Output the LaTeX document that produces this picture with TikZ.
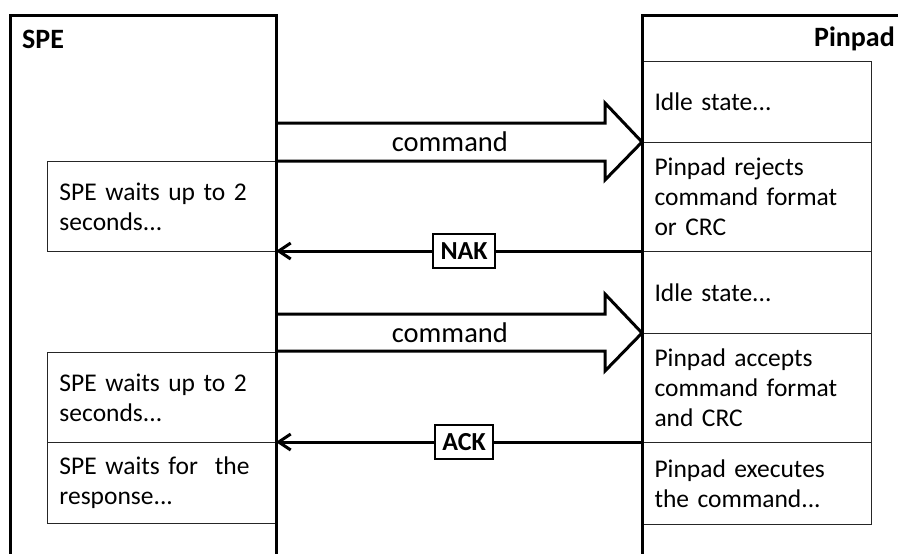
\documentclass[tikz,border=0pt]{standalone}
\usepackage{fontspec}
\setmainfont{Carlito}
\usetikzlibrary{arrows.meta,calc}
\begin{document}
\begin{tikzpicture}[x=1pt,y=-1pt,
  thickline/.style={line width=3pt},
  stepbox/.style={draw=black!85, line width=1pt, rectangle, anchor=north west,
    minimum width=229pt, text width=205pt, inner xsep=12pt, inner ysep=0pt,
    align=left, font=\fontsize{25.5}{30}\selectfont},
  titletext/.style={font=\fontsize{28}{32}\selectfont\bfseries, inner sep=0pt},
  cmdtext/.style={font=\fontsize{28.5}{32}\selectfont, inner sep=0pt},
  msg/.style={draw, line width=2pt, fill=white, font=\fontsize{26}{31}\selectfont\bfseries,
    inner xsep=7.5pt, inner ysep=8.5pt},
  reply/.style={line width=3pt, -{Straight Barb[length=12pt,width=16pt]}}
]
\useasboundingbox (0,0) rectangle (898,554);

% Pinpad steps
\node[stepbox, minimum height=81pt]  (p1) at (642,61)  {Idle state...};
\node[stepbox, minimum height=109pt] (p2) at (642,142) {Pinpad rejects\\command format\\or CRC};
\node[stepbox, minimum height=82pt]  (p3) at (642,251) {Idle state...};
\node[stepbox, minimum height=109pt] (p4) at (642,333) {Pinpad accepts\\command format\\and CRC};
\node[stepbox, minimum height=82pt]  (p5) at (642,442) {Pinpad executes\\the command...};

% SPE steps
\node[stepbox, minimum height=90pt] (s1) at (47,161) {SPE waits up to 2\\seconds...};
\node[stepbox, minimum height=90pt] (s2) at (47,352) {SPE waits up to 2\\seconds...};
\node[stepbox, minimum height=81pt] (s3) at (47,442) {SPE waits for\ \ the\\response...};

% lifelines
\draw[thickline] (10,554) -- (10,15) -- (276,15) -- (276,554);
\draw[thickline] (642,554) -- (642,15) -- (910,15);
\node[titletext, anchor=base west] (spe) at (22,48) {SPE};
\node[titletext, anchor=base east] (pinpad) at (895,46) {Pinpad};

% command arrows
\coordinate (c1a) at (276,142);
\coordinate (c1b) at (642,142);
\draw[thickline] ($(c1a)+(0,-19)$) -- ($(c1b)+(-37,-19)$) -- ($(c1b)+(-37,-39)$) -- (c1b)
  -- ($(c1b)+(-37,38)$) -- ($(c1b)+(-37,19)$) -- ($(c1a)+(0,19)$);
\node[cmdtext] (cmd1) at ($(c1a)!0.475!(c1b)$) {command};

\coordinate (c2a) at (276,333);
\coordinate (c2b) at (642,333);
\draw[thickline] ($(c2a)+(0,-19)$) -- ($(c2b)+(-37,-19)$) -- ($(c2b)+(-37,-39)$) -- (c2b)
  -- ($(c2b)+(-37,38)$) -- ($(c2b)+(-37,18)$) -- ($(c2a)+(0,18)$);
\node[cmdtext] (cmd2) at ($(c2a)!0.475!(c2b)$) {command};

% replies
\coordinate (n1a) at (642,251);
\coordinate (n1b) at (276,251);
\draw[reply] (n1a) -- node[msg, pos=0.486] (nak) {NAK} (n1b);

\coordinate (a1a) at (642,442);
\coordinate (a1b) at (276,442);
\draw[reply] (a1a) -- node[msg, pos=0.486] (ack) {ACK} (a1b);
\end{tikzpicture}
\end{document}
